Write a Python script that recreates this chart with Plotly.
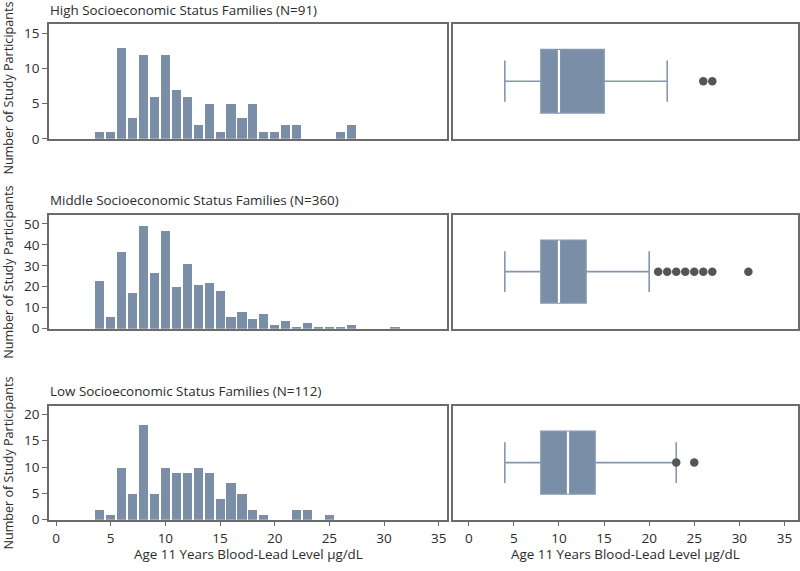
import plotly.graph_objects as go

# ---------------- data ----------------
groups = ["High Socioeconomic Status Families (N=91)",
          "Middle Socioeconomic Status Families (N=360)",
          "Low Socioeconomic Status Families (N=112)"]

high_levels = [4, 5, 6, 7, 8, 9, 10, 11, 12, 13, 14, 15, 16, 17, 18, 19, 20, 21, 22, 26, 27]
high_counts = [1, 1, 13, 3, 12, 6, 12, 7, 6, 2, 5, 1, 5, 3, 5, 1, 1, 2, 2, 1, 2]

mid_levels = [4, 5, 6, 7, 8, 9, 10, 11, 12, 13, 14, 15, 16, 17, 18, 19, 20, 21, 22, 23, 24, 25, 26, 27, 31]
mid_counts = [23, 6, 37, 17, 49, 27, 47, 20, 31, 21, 22, 18, 6, 8, 5, 7, 2, 4, 1, 3, 1, 1, 1, 2, 1]

low_levels = [4, 5, 6, 7, 8, 9, 10, 11, 12, 13, 14, 15, 16, 17, 18, 19, 22, 23, 25]
low_counts = [2, 1, 10, 5, 18, 5, 10, 9, 9, 10, 9, 4, 7, 5, 2, 1, 2, 2, 1]

# box statistics: lower whisker, Q1, median, Q3, upper whisker
high_box = [4, 8, 10, 15, 22]
mid_box = [4, 8, 10, 13, 20]
low_box = [4, 8, 11, 14, 23]

high_outliers = [26, 27]
mid_outliers = [21, 22, 23, 24, 25, 26, 27, 31]
low_outliers = [23, 25]

y_max = [16.4, 54.4, 21.7]
y_ticks = [[0, 5, 10, 15], [0, 10, 20, 30, 40, 50], [0, 5, 10, 15, 20]]
x_ticks = [0, 5, 10, 15, 20, 25, 30, 35]

x_title = "Age 11 Years Blood-Lead Level µg/dL"
y_title = "Number of Study Participants"

# ---------------- style ----------------
W, H = 800, 571
BAR = "#7a8fa7"
DOT = "#555555"
TXT = "#2b2b2b"
AX = "#6b6b6b"
FONT = "Open Sans"
FS = 13.4
TFS = 13.5

left_px = (49, 448)
right_px = (454, 799)
rows_px = [(24, 141), (218, 334), (412, 528)]
title_y_px = [10, 203, 397]
ytitle_center_px = [89, 276, 470]

def px_x(a, b):
    return [a / W, b / W]

def px_y(top, bot):
    return [1 - bot / H, 1 - top / H]

fig = go.Figure()

hists = [(high_levels, high_counts), (mid_levels, mid_counts), (low_levels, low_counts)]
boxes = [high_box, mid_box, low_box]
outs = [high_outliers, mid_outliers, low_outliers]

annotations = []
for i in range(3):
    n_l = 2 * i + 1
    n_r = 2 * i + 2
    xa_l = "x" if n_l == 1 else f"x{n_l}"
    ya_l = "y" if n_l == 1 else f"y{n_l}"
    xa_r = f"x{n_r}"
    ya_r = f"y{n_r}"
    lv, ct = hists[i]
    fig.add_trace(go.Bar(x=lv, y=ct, width=0.84, marker=dict(color=BAR, line=dict(width=0)),
                         xaxis=xa_l, yaxis=ya_l, showlegend=False))
    lo, q1, med, q3, hi = boxes[i]
    fig.add_trace(go.Box(orientation="h", y=[0], q1=[q1], median=[med], q3=[q3],
                         lowerfence=[lo], upperfence=[hi], width=0.55, whiskerwidth=0.65,
                         fillcolor=BAR, line=dict(color="#8397ae", width=1.6), boxpoints=False,
                         xaxis=xa_r, yaxis=ya_r, showlegend=False))
    fig.add_trace(go.Scatter(x=[med, med], y=[-0.272, 0.272], mode="lines",
                             line=dict(color="white", width=2.2),
                             xaxis=xa_r, yaxis=ya_r, showlegend=False))
    fig.add_trace(go.Scatter(x=outs[i], y=[0] * len(outs[i]), mode="markers",
                             marker=dict(color=DOT, size=8.5),
                             xaxis=xa_r, yaxis=ya_r, showlegend=False))

    top, bot = rows_px[i]
    bottom_row = (i == 2)
    common_x = dict(showline=True, mirror=True, linecolor=AX, linewidth=1.5,
                    showgrid=False, zeroline=False, tickvals=x_ticks,
                    ticks="outside" if bottom_row else "", ticklen=5, tickcolor=AX,
                    showticklabels=bottom_row,
                    tickfont=dict(family=FONT, size=TFS, color=TXT))
    fig.layout[f"xaxis{'' if n_l == 1 else n_l}"] = dict(
        domain=px_x(*left_px), anchor=ya_l, range=[-0.65, 35.8], **common_x)
    fig.layout[f"yaxis{'' if n_l == 1 else n_l}"] = dict(
        domain=px_y(top, bot), anchor=xa_l, range=[0, y_max[i]], tickvals=y_ticks[i],
        showline=True, mirror=True, linecolor=AX, linewidth=1.5, showgrid=False,
        zeroline=False, ticks="outside", ticklen=5, tickcolor=AX,
        tickfont=dict(family=FONT, size=TFS, color=TXT))
    fig.layout[f"xaxis{n_r}"] = dict(
        domain=px_x(*right_px), anchor=ya_r, range=[-1.7, 36.5], **common_x)
    fig.layout[f"yaxis{n_r}"] = dict(
        domain=px_y(top, bot), anchor=xa_r, range=[-0.5, 0.5], showticklabels=False,
        showline=True, mirror=True, linecolor=AX, linewidth=1.5, showgrid=False,
        zeroline=False, ticks="")

    annotations.append(dict(text=groups[i], xref="paper", yref="paper",
                            x=(left_px[0] - 1) / W, y=1 - title_y_px[i] / H,
                            xanchor="left", yanchor="middle", showarrow=False,
                            font=dict(family=FONT, size=FS, color=TXT)))
    annotations.append(dict(text=y_title, xref="paper", yref="paper",
                            x=9 / W, y=1 - ytitle_center_px[i] / H, textangle=-90,
                            xanchor="center", yanchor="middle", showarrow=False,
                            font=dict(family=FONT, size=12.6, color=TXT)))

for a, b in (left_px, right_px):
    annotations.append(dict(text=x_title, xref="paper", yref="paper",
                            x=(a + b) / 2 / W, y=1 - 563 / H,
                            xanchor="center", yanchor="middle", showarrow=False,
                            font=dict(family=FONT, size=FS, color=TXT)))

fig.update_layout(width=W, height=H, autosize=False,
                  margin=dict(l=0, r=0, t=0, b=0),
                  paper_bgcolor="white", plot_bgcolor="white",
                  annotations=annotations, bargap=0)

fig.write_html("out.html", config={"displayModeBar": False},
               post_script="document.body.style.margin='0px';")
